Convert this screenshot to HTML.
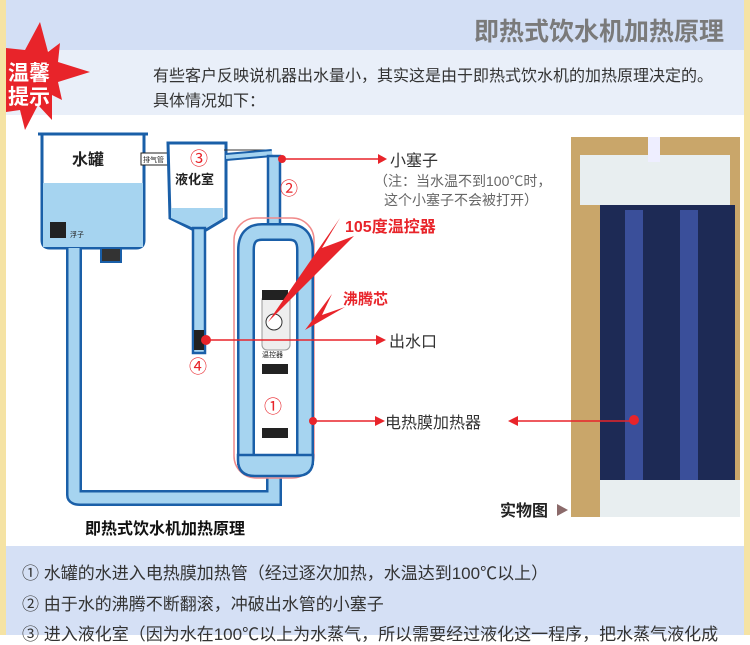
<!DOCTYPE html>
<html><head><meta charset="utf-8"><style>
body{margin:0;width:750px;height:635px;overflow:hidden;background:#fff;font-family:"Liberation Sans","Noto Sans CJK SC",sans-serif;position:relative}
.a{position:absolute;white-space:nowrap}
</style></head><body>
<div class="a" style="left:0;top:0;width:750px;height:50px;background:#d3dff5"></div>
<div class="a" style="left:0;top:50px;width:750px;height:65px;background:#e9eff9"></div>
<div class="a" style="left:0;top:546px;width:750px;height:89px;background:#d5e0f5"></div>
<div class="a" style="left:0;top:0;width:6px;height:635px;background:#f5e3a4"></div>
<div class="a" style="left:744px;top:0;width:6px;height:635px;background:#f5e3a4"></div>
<div class="a" style="left:474px;top:12px;font-size:25px;color:#7a7a7a;font-weight:bold">即热式饮水机加热原理</div>
<div class="a" style="left:153px;top:62px;font-size:16px;color:#333">有些客户反映说机器出水量小，其实这是由于即热式饮水机的加热原理决定的。</div>
<div class="a" style="left:153px;top:87px;font-size:16px;color:#333">具体情况如下：</div>
<svg class="a" style="left:0;top:0" width="750" height="635">
<polygon points="6,48 25,50 40,22 48,52 60,43 58,62 90,72 58,82 62,100 52,95 52,120 38,105 25,130 20,110 6,112" fill="#e8242a"/>
<text x="8" y="80" font-size="21" font-weight="bold" fill="#fff" font-family="Liberation Sans,Noto Sans CJK SC,sans-serif">温馨</text>
<text x="8" y="104" font-size="21" font-weight="bold" fill="#fff" font-family="Liberation Sans,Noto Sans CJK SC,sans-serif">提示</text>
<!-- photo -->
<rect x="571" y="137" width="169" height="380" fill="#c9a66a"/>
<rect x="600" y="205" width="135" height="300" fill="#1d2a55"/>
<rect x="580" y="155" width="150" height="50" fill="#e8eef0"/>
<rect x="600" y="480" width="140" height="37" fill="#e8eef0"/>
<rect x="625" y="210" width="18" height="270" fill="#3a4f9a"/><rect x="680" y="210" width="18" height="270" fill="#3a4f9a"/>
<rect x="648" y="137" width="12" height="25" fill="#eef"/>
<!-- tank -->
<path d="M38,134 H148 M42,134 V240 Q42,248 50,248 H136 Q144,248 144,240 V134" fill="none" stroke="#1a5fa8" stroke-width="3"/>
<rect x="43" y="183" width="100" height="64" fill="#a6d4f0"/>
<text x="72" y="165" font-size="16" font-weight="bold" fill="#222" font-family="Liberation Sans,Noto Sans CJK SC,sans-serif">水罐</text>
<rect x="50" y="222" width="16" height="16" fill="#222"/>
<rect x="101" y="248" width="20" height="14" fill="#333" stroke="#1a5fa8" stroke-width="2"/>
<text x="70" y="237" font-size="7" fill="#222">浮子</text>
<rect x="141" y="153" width="30" height="12" fill="#fff" stroke="#222"/>
<text x="143" y="162" font-size="7" fill="#222">排气管</text>
<!-- pipe loop -->
<path d="M74,248 V495 Q74,498 80,498 H274 V478" fill="none" stroke="#1a5fa8" stroke-width="16"/>
<path d="M74,248 V495 Q74,498 80,498 H274 V478" fill="none" stroke="#a6d4f0" stroke-width="11"/>
<!-- condenser -->
<path d="M168,143 H226 V218 L206,230 H194 L170,218 Z" fill="#fff" stroke="#1a5fa8" stroke-width="3"/>
<path d="M171,208 H223 V218 L206,228 H194 L171,218 Z" fill="#a6d4f0"/>
<rect x="193" y="228" width="12" height="125" fill="#a6d4f0" stroke="#1a5fa8" stroke-width="2.5"/>
<rect x="194" y="330" width="10" height="20" fill="#222"/>
<text x="175" y="184" font-size="13" font-weight="bold" fill="#222" font-family="Liberation Sans,Noto Sans CJK SC,sans-serif">液化室</text>
<text x="190" y="165" font-size="18" fill="#e8242a">③</text>
<text x="189" y="373" font-size="18" fill="#e8242a">④</text>
<path d="M224,150 L270,150" stroke="#333" stroke-width="1" fill="none"/>
<path d="M226,157 L272,153" stroke="#1a5fa8" stroke-width="8"/>
<path d="M226,157 L272,153" stroke="#a6d4f0" stroke-width="4"/>
<rect x="268" y="156" width="12" height="72" fill="#a6d4f0" stroke="#1a5fa8" stroke-width="2.5"/>
<text x="280" y="195" font-size="18" fill="#e8242a">②</text>
<!-- heater -->
<rect x="234" y="218" width="80" height="260" rx="22" fill="none" stroke="#f08a8a" stroke-width="1.5"/>
<path d="M246,465 V250 Q246,232 262,232 H289 Q305,232 305,250 V465" fill="none" stroke="#1a5fa8" stroke-width="18"/>
<path d="M246,465 V250 Q246,232 262,232 H289 Q305,232 305,250 V465" fill="none" stroke="#a6d4f0" stroke-width="13"/>
<path d="M238,455 H313 V460 Q313,476 296,476 H255 Q238,476 238,460 Z" fill="#a6d4f0" stroke="#1a5fa8" stroke-width="2.5"/>
<rect x="262" y="295" width="28" height="55" rx="5" fill="#eee" stroke="#999"/>
<circle cx="274" cy="322" r="8" fill="#fff" stroke="#333"/>
<rect x="262" y="290" width="26" height="10" fill="#222"/><rect x="262" y="364" width="26" height="10" fill="#222"/><rect x="262" y="428" width="26" height="10" fill="#222"/>
<text x="262" y="357" font-size="7" fill="#222">温控器</text>
<text x="264" y="413" font-size="18" fill="#e8242a">①</text>
<!-- red -->
<g stroke="#e8242a" stroke-width="1.5" fill="none"><path d="M282,159 H380"/><path d="M206,340 H380"/><path d="M313,421 H378"/><path d="M517,421 H634"/></g>
<g fill="#e8242a"><circle cx="282" cy="159" r="4"/><circle cx="206" cy="340" r="5"/><circle cx="313" cy="421" r="4"/><circle cx="634" cy="420" r="5"/>
<polygon points="378,154 387,159 378,164"/><polygon points="376,335 386,340 376,345"/><polygon points="375,416 385,421 375,426"/><polygon points="518,416 508,421 518,426"/>
<polygon points="268,322 340,218 322,248 354,236"/><polygon points="305,330 332,294 322,315 345,307"/></g>
<text x="390" y="166" font-size="16" fill="#333" font-family="Liberation Sans,Noto Sans CJK SC,sans-serif">小塞子</text>
<text x="374" y="186" font-size="14" fill="#666" font-family="Liberation Sans,Noto Sans CJK SC,sans-serif">（注：当水温不到100℃时，</text>
<text x="384" y="205" font-size="14" fill="#666" font-family="Liberation Sans,Noto Sans CJK SC,sans-serif">这个小塞子不会被打开）</text>
<text x="345" y="232" font-size="16" font-weight="bold" fill="#e8242a" font-family="Liberation Sans,Noto Sans CJK SC,sans-serif">105度温控器</text>
<text x="343" y="304" font-size="15" font-weight="bold" fill="#e8242a" font-family="Liberation Sans,Noto Sans CJK SC,sans-serif">沸腾芯</text>
<text x="389" y="347" font-size="16" fill="#333" font-family="Liberation Sans,Noto Sans CJK SC,sans-serif">出水口</text>
<text x="385" y="428" font-size="16" fill="#333" font-family="Liberation Sans,Noto Sans CJK SC,sans-serif">电热膜加热器</text>
<text x="500" y="516" font-size="16" font-weight="bold" fill="#222" font-family="Liberation Sans,Noto Sans CJK SC,sans-serif">实物图</text>
<polygon points="557,504 568,510 557,516" fill="#8b6a6a"/>
<text x="85" y="534" font-size="16" font-weight="bold" fill="#111" font-family="Liberation Sans,Noto Sans CJK SC,sans-serif">即热式饮水机加热原理</text>
</svg>
<div class="a" style="left:22px;top:559px;font-size:17px;color:#333">① 水罐的水进入电热膜加热管（经过逐次加热，水温达到100℃以上）</div>
<div class="a" style="left:22px;top:590px;font-size:17px;color:#333">② 由于水的沸腾不断翻滚，冲破出水管的小塞子</div>
<div class="a" style="left:22px;top:620px;font-size:17px;color:#333">③ 进入液化室（因为水在100℃以上为水蒸气，所以需要经过液化这一程序，把水蒸气液化成</div>
</body></html>
